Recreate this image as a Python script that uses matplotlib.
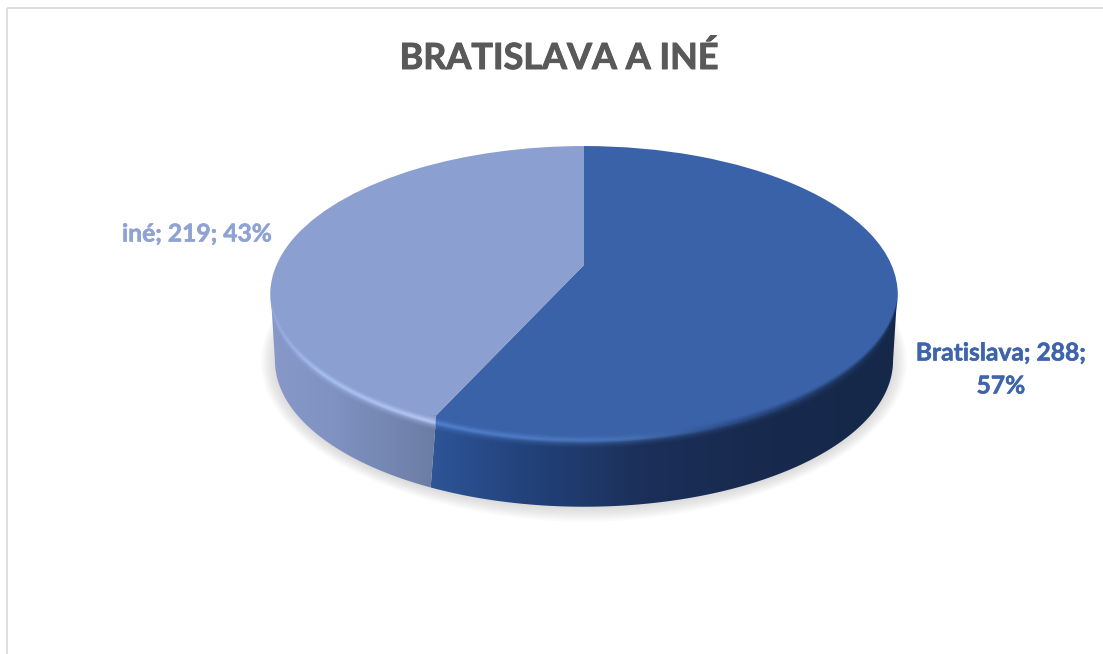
import numpy as np
import matplotlib
matplotlib.use("Agg")
import matplotlib.pyplot as plt
import matplotlib.patheffects as pe
from matplotlib.colors import to_rgb
from matplotlib.patches import Polygon
from matplotlib.transforms import Transform

categories = ["Bratislava", "iné"]
values = [288, 219]
title = "BRATISLAVA A INÉ"

FACE = ["#3a62a8", "#8c9fd1"]
TEXT = ["#3d64ad", "#8fa2d4"]
W, H = 1103, 654
CX, CY_HUB = 584, 265          # hub of the pie on screen
K, SX, SY = 0.1987, 307.5, 142.6  # perspective
DEPTH, SHRINK = 66, 0.985
ELL_CY = 294.5

plt.rcParams["font.family"] = ["Lato", "DejaVu Sans"]


class Persp(Transform):
    input_dims = output_dims = 2
    has_inverse = False
    is_affine = False

    def transform_non_affine(self, pts):
        pts = np.asarray(pts, float)
        w = 1 + K * pts[:, 1]
        return np.column_stack([CX + SX * pts[:, 0] / w, CY_HUB - SY * pts[:, 1] / w])


persp = Persp()


def top_pt(theta):
    """theta: degrees clockwise from 12 o'clock."""
    a = np.radians(theta)
    return persp.transform_non_affine(np.column_stack([np.sin(a), np.cos(a)]))


def bottom_pt(p):
    return np.column_stack([CX + SHRINK * (p[:, 0] - CX),
                            ELL_CY + DEPTH + SHRINK * (p[:, 1] - ELL_CY)])


def ramp(stops, t):
    xs = [s[0] for s in stops]
    cols = np.array([to_rgb(s[1]) for s in stops])
    return np.stack([np.interp(t, xs, cols[:, i]) for i in range(3)], axis=-1)


WALL = [[(.25, "#2f5699"), (.40, "#23437c"), (.6, "#1b2f59"), (.8, "#17294c"), (1, "#16284a")],
        [(0, "#8899c9"), (.10, "#7f92c2"), (.27, "#6b7ca3")]]
GLOW = [[(.25, "#4f7fce"), (.42, "#4c79c2"), (.58, "#4570b4"), (.72, "#2e5290"), (.88, "#1f3a68"), (1, "#1a3058")],
        [(0, "#93a8dc"), (.08, "#a6bef2"), (.27, "#b4c6f0")]]
BEVEL_D = [-8, -6, -4.5, -3, -1.5, 0, 2, 5]
BEVEL_M = [0, .3, .65, 1, .85, .45, .2, 0]
BEVEL_H = 8

fig = plt.figure(figsize=(W / 100, H / 100), dpi=100, facecolor="white")
ax = fig.add_axes([0, 0, 1, 1])

# pie top faces
wedges, _ = ax.pie(values, colors=FACE, startangle=90, counterclock=False,
                   wedgeprops=dict(linewidth=0))
for wd in wedges:
    wd.set_zorder(5)

cum = np.concatenate([[0], np.cumsum(values)]) / np.sum(values) * 360

# soft shadow under the disc
th_all = np.linspace(0, 360, 361)
base = bottom_pt(top_pt(th_all))
cxy = np.array([CX, ELL_CY + DEPTH])
for grow in np.arange(14, 0, -1.5):
    d = base - cxy
    n = d / np.linalg.norm(d, axis=1, keepdims=True)
    ax.fill(*(base + n * grow + [0, 1]).T, color="#7f7f7f", alpha=0.028, lw=0, zorder=1)

# side wall with rim bevel, one smooth image per slice, clipped to the slice
TH_R = np.degrees(np.arccos(-K))
TH_L = 360 - TH_R
th_front = np.linspace(TH_R, TH_L, 721)
rim_front = top_pt(th_front)
x0, x1, y0, y1 = 262, 906, 270, 520
XX, YY = np.meshgrid(np.arange(x0, x1) + .5, np.arange(y0, y1) + .5)
rim_y = np.interp(XX, rim_front[::-1, 0], rim_front[::-1, 1])
D = YY - rim_y
T = (XX - 270) / 628
M = np.interp(D, BEVEL_D, BEVEL_M)[..., None]
hub = np.array([CX, CY_HUB])

for i in range(len(values)):
    lo, hi = max(cum[i], TH_R), min(cum[i + 1], TH_L)
    th = np.linspace(lo, hi, 300)
    up = top_pt(th)
    dn = bottom_pt(up)
    top_edge = up - [0, BEVEL_H]
    # at a slice boundary the bevel's upper edge follows the radius to the hub
    for idx, is_boundary in ((0, lo > TH_R), (-1, hi < TH_L)):
        if is_boundary:
            top_edge[idx] = up[idx] + (hub - up[idx]) * BEVEL_H / (up[idx, 1] - hub[1])
    wall = ramp(WALL[i], T)
    glow = ramp(GLOW[i], T)
    face = np.array(to_rgb(FACE[i]))
    under = np.where(D[..., None] < -3, face, wall)
    rgb = under * (1 - M) + glow * M
    im = ax.imshow(rgb, extent=(x0, x1, y1, y0), aspect="auto", interpolation="nearest", zorder=6)
    clip = Polygon(np.vstack([top_edge, dn[::-1]]), closed=True, transform=ax.transData)
    im.set_clip_path(clip)

ax.set_aspect("auto")
ax.set_xlim(0, W)
ax.set_ylim(H, 0)
ax.set_axis_off()
for wd in wedges:
    wd.set_transform(persp + ax.transData)

# chart frame
ax.plot([7, 7], [8, H], color="#d9d9d9", lw=1.2, zorder=0, solid_capstyle="butt")
ax.plot([7, W], [8, 8], color="#d9d9d9", lw=1.2, zorder=0, solid_capstyle="butt")

# texts
pct = [round(v / sum(values) * 100) for v in values]


def label(x, y, s, size, color, stroke):
    t = ax.text(x, y, s, ha="center", va="center", fontsize=size, fontweight="bold", color=color)
    t.set_path_effects([pe.withStroke(linewidth=stroke, foreground=color)])


label(559, 58, title, 25.9, "#595959", 0.7)
label(1001, 353, f"{categories[0]}; {values[0]};", 17.7, TEXT[0], 0.4)
label(1001, 386, f"{pct[0]}%", 17.7, TEXT[0], 0.4)
label(197, 234, f"{categories[1]}; {values[1]}; {pct[1]}%", 17.7, TEXT[1], 0.4)

fig.savefig("out.png", dpi=100)
